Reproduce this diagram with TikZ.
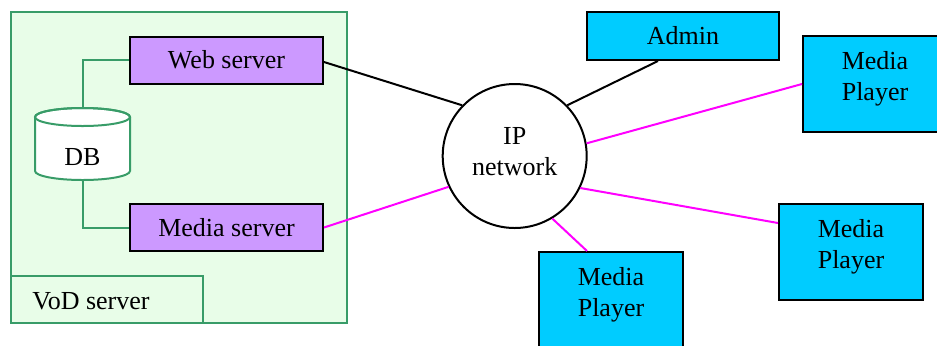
\documentclass[tikz,border=0pt]{standalone}
\usepackage{fontspec}
\setmainfont{Liberation Serif}
\definecolor{vodgreen}{RGB}{56,156,104}
\definecolor{vodfill}{RGB}{232,253,232}
\definecolor{srvpurple}{RGB}{204,153,255}
\definecolor{clientblue}{RGB}{0,204,255}
\definecolor{streampink}{RGB}{255,0,255}
\begin{document}
\begin{tikzpicture}[x=0.5pt,y=-0.5pt,
    font=\fontsize{13}{15.5}\selectfont,
    server/.style={draw=black,line width=1pt,fill=srvpurple,
      minimum width=96.5pt,minimum height=23.5pt,inner sep=0pt},
    client/.style={draw=black,line width=1pt,fill=clientblue,inner sep=0pt},
    player/.style={client,minimum width=72pt,minimum height=48pt,
      align=center,text depth=8pt},
    wire/.style={line width=1pt},
    stream/.style={wire,streampink},
    dblink/.style={draw=vodgreen,line width=1pt}]
	\useasboundingbox (0,0) rectangle (937,345);

	% VoD server box
	\draw[vodgreen,line width=1pt,fill=vodfill] (11,12) rectangle (347,323);
	\draw[vodgreen,line width=1pt] (11,276) rectangle (203,323);
	\node[anchor=west,inner xsep=0pt] (vodlabel) at (32,301) {VoD server};

	\node[server] (web) at (226.5,60) {Web server};
	\node[server] (media) at (226.5,227.5) {Media server};

	% database cylinder
	\draw[vodgreen,line width=1pt,fill=white] (35,117) -- (35,171)
		arc[start angle=180,end angle=360,x radius=23.75pt,y radius=4.5pt]
		-- (130,117)
		arc[start angle=0,end angle=180,x radius=23.75pt,y radius=4.5pt];
	\draw[vodgreen,line width=1pt] (82.5,117) ellipse [x radius=23.75pt,y radius=4.5pt];
	\coordinate (dbtop) at (82.5,108);
	\coordinate (dbbot) at (82.5,180);
	\node (db) at (82.5,157) {DB};

	\draw[dblink] (dbtop) |- (web.west);
	\draw[dblink] (dbbot) |- (media.west);

	% network and clients
	\node[draw,circle,line width=1pt,minimum size=72pt,inner sep=0pt,
		align=center,text depth=5pt] (ip) at (514.7,156) {IP\\network};
	\node[client,minimum width=96pt,minimum height=24pt] (admin) at (683,36) {Admin};
	\node[player] (mp1) at (875,84) {Media\\Player};
	\node[player] (mp2) at (851,252) {Media\\Player};
	\node[player] (mp3) at (611,300) {Media\\Player};

	% links
	\draw[wire] ([yshift=-1pt]web.east) -- (ip.136.7);
	\draw[wire] ([xshift=-12.5pt]admin.south) -- (ip.44);
	\draw[stream] (ip.10) -- (mp1.west);
	\draw[stream] (media.east) -- (ip.205);
	\draw[stream] (ip.334) -- ([yshift=14.5pt]mp2.west);
	\draw[stream] (ip.301) -- ([xshift=-12pt]mp3.north);

\end{tikzpicture}
\end{document}
